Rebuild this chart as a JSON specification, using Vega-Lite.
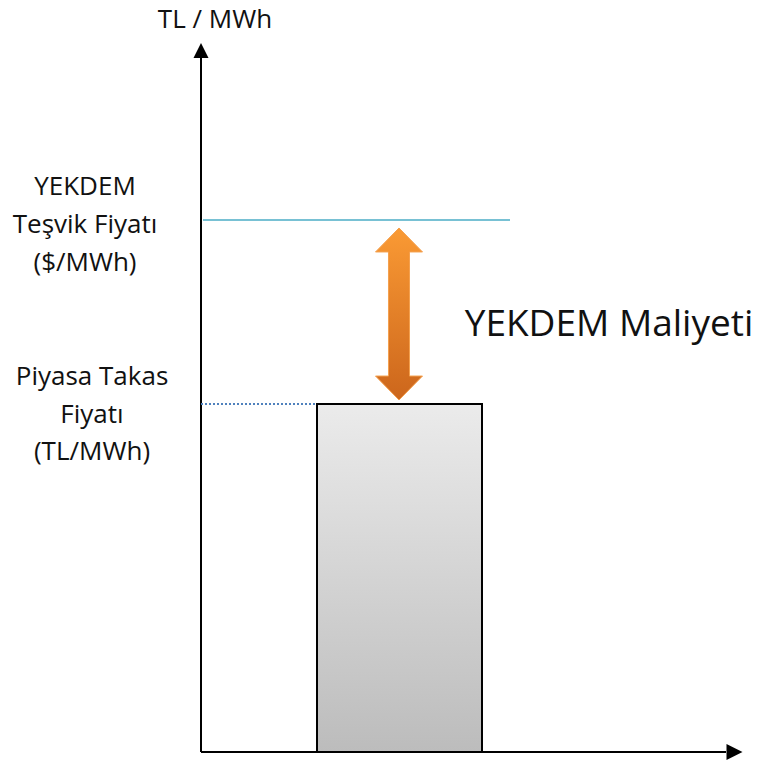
{
  "$schema": "https://vega.github.io/schema/vega-lite/v6.json",
  "width": 761,
  "height": 764,
  "padding": 0,
  "autosize": {"type": "fit", "contains": "padding"},
  "config": {"view": {"stroke": null}},
  "datasets": {
    "axes": [
      {"x": 0, "y": 0, "x2": 0, "y2": 139},
      {"x": 0, "y": 0, "x2": 105, "y2": 0}
    ],
    "heads": [
      {"x": 0, "y": 140.3, "dir": "up"},
      {"x": 106.7, "y": 0, "dir": "right"}
    ],
    "bar": [{"x": 23.2, "x2": 56.2, "y": 0, "y2": 69.6}],
    "tesvik": [{"x": 0.4, "x2": 61.8, "y": 106.4}],
    "ptf": [{"x": 0, "x2": 23.2, "y": 69.6}],
    "gap": [{"x": 39.6, "y": 87.6}],
    "title": [{"x": 2.8, "y": 146.4, "t": "TL / MWh"}],
    "labels": [
      {"x": -23.2, "y": 113, "t": "YEKDEM"},
      {"x": -23.2, "y": 105.4, "t": "Teşvik Fiyatı"},
      {"x": -23.2, "y": 97.8, "t": "($/MWh)"},
      {"x": -21.8, "y": 75, "t": "Piyasa Takas"},
      {"x": -21.8, "y": 67.4, "t": "Fiyatı"},
      {"x": -21.8, "y": 60, "t": "(TL/MWh)"}
    ],
    "big": [{"x": 81.6, "y": 85.4, "t": "YEKDEM Maliyeti"}]
  },
  "encoding": {
    "x": {"field": "x", "type": "quantitative", "scale": {"domain": [-40.2, 112], "nice": false, "zero": false}, "axis": null},
    "y": {"field": "y", "type": "quantitative", "scale": {"domain": [-2.4, 150.4], "nice": false, "zero": false}, "axis": null}
  },
  "layer": [
    {
      "data": {"name": "bar"},
      "mark": {
        "type": "rect",
        "stroke": "#000000",
        "strokeWidth": 2,
        "fill": {"gradient": "linear", "x1": 0, "y1": 0, "x2": 0, "y2": 1,
          "stops": [{"offset": 0, "color": "#ebebeb"}, {"offset": 1, "color": "#bcbcbc"}]}
      },
      "encoding": {"x2": {"field": "x2"}, "y2": {"field": "y2"}}
    },
    {
      "data": {"name": "axes"},
      "mark": {"type": "rule", "color": "#000000", "strokeWidth": 2},
      "encoding": {"x2": {"field": "x2"}, "y2": {"field": "y2"}}
    },
    {
      "data": {"name": "heads"},
      "transform": [{"filter": "datum.dir === 'up'"}],
      "mark": {"type": "point", "shape": "M0,-1L1,1L-1,1Z", "size": 225, "filled": true, "opacity": 1, "color": "#000000"}
    },
    {
      "data": {"name": "heads"},
      "transform": [{"filter": "datum.dir === 'right'"}],
      "mark": {"type": "point", "shape": "M1,0L-1,-1L-1,1Z", "size": 256, "filled": true, "opacity": 1, "color": "#000000"}
    },
    {
      "data": {"name": "tesvik"},
      "mark": {"type": "rule", "color": "#4bacc6", "strokeWidth": 1.5},
      "encoding": {"x2": {"field": "x2"}}
    },
    {
      "data": {"name": "ptf"},
      "mark": {"type": "rule", "color": "#4f81bd", "strokeWidth": 2, "strokeDash": [2, 2]},
      "encoding": {"x2": {"field": "x2"}}
    },
    {
      "data": {"name": "gap"},
      "mark": {
        "type": "point",
        "shape": "M0,-3.66L1,-2.64L0.447,-2.64L0.447,2.64L1,2.64L0,3.66L-1,2.64L-0.447,2.64L-0.447,-2.64L-1,-2.64Z",
        "size": 2209,
        "filled": true,
        "opacity": 1,
        "stroke": "#f4a04e",
        "strokeWidth": 1,
        "fill": {"gradient": "linear", "x1": 0, "y1": 0, "x2": 0, "y2": 1,
          "stops": [{"offset": 0, "color": "#fa9a34"}, {"offset": 1, "color": "#cc661c"}]}
      }
    },
    {
      "data": {"name": "title"},
      "mark": {"type": "text", "font": "Open Sans", "fontSize": 26, "align": "center", "baseline": "middle", "color": "#111111"},
      "encoding": {"text": {"field": "t"}}
    },
    {
      "data": {"name": "labels"},
      "mark": {"type": "text", "font": "Open Sans", "fontSize": 26, "align": "center", "baseline": "middle", "color": "#111111"},
      "encoding": {"text": {"field": "t"}}
    },
    {
      "data": {"name": "big"},
      "mark": {"type": "text", "font": "Open Sans", "fontSize": 37, "align": "center", "baseline": "middle", "color": "#111111"},
      "encoding": {"text": {"field": "t"}}
    }
  ]
}
